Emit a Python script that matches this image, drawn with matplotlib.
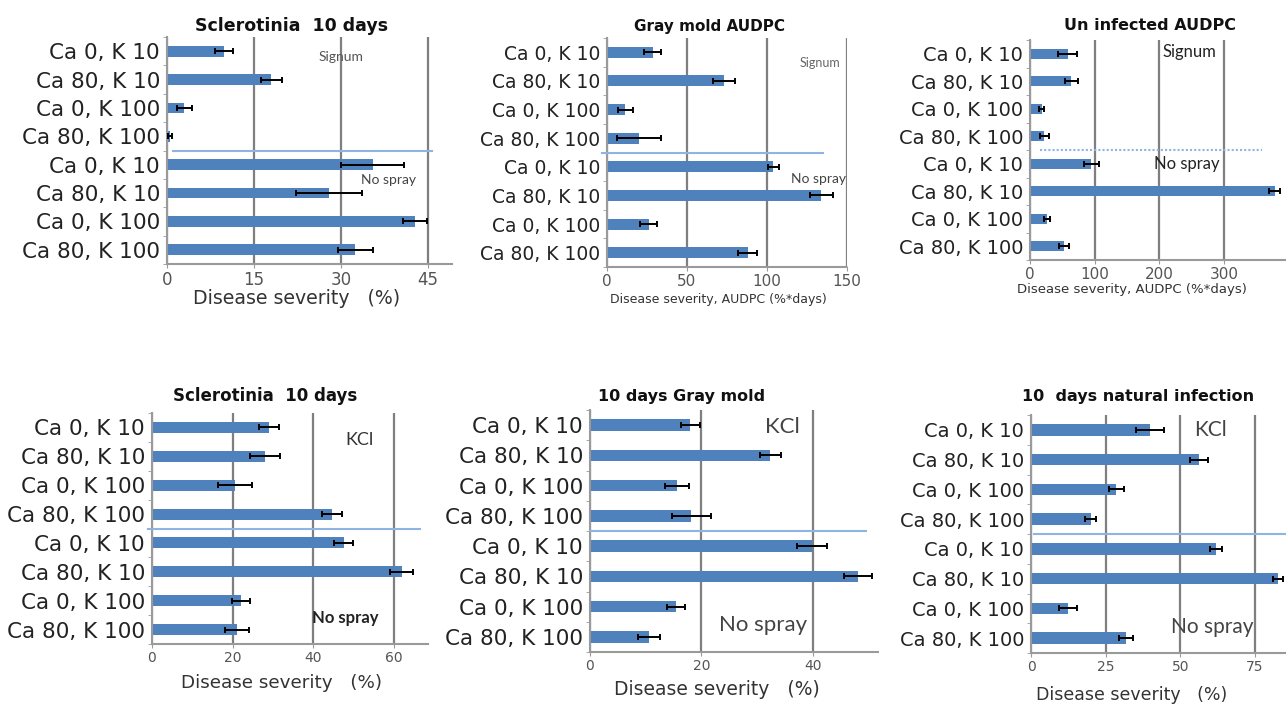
import matplotlib
matplotlib.use("Agg")
import matplotlib.pyplot as plt

# Treatment labels (top group: sprayed, bottom group: no spray)
treatments = ["Ca 0, K 10", "Ca 80, K 10", "Ca 0, K 100", "Ca 80, K 100",
              "Ca 0, K 10", "Ca 80, K 10", "Ca 0, K 100", "Ca 80, K 100"]

# Signum experiment
sclero_signum_mean = [9.8, 18.0, 3.0, 0.5, 35.5, 28.0, 42.8, 32.5]
sclero_signum_err = [1.6, 1.8, 1.3, 0.3, 5.5, 5.7, 2.0, 3.0]
graymold_audpc_mean = [28.5, 73.0, 11.5, 20.0, 104.0, 134.0, 26.0, 88.0]
graymold_audpc_err = [5.5, 7.0, 4.5, 14.0, 3.5, 7.0, 5.5, 6.0]
uninfected_audpc_mean = [58.0, 64.0, 18.0, 22.0, 95.0, 378.0, 26.0, 53.0]
uninfected_audpc_err = [14.0, 10.0, 4.0, 7.0, 12.0, 9.0, 4.5, 8.0]

# KCl experiment
sclero_kcl_mean = [29.0, 28.0, 20.5, 44.6, 47.6, 62.0, 22.0, 21.0]
sclero_kcl_err = [2.4, 3.8, 4.2, 2.5, 2.4, 2.9, 2.2, 3.0]
graymold_kcl_mean = [18.0, 32.4, 15.6, 18.2, 39.9, 48.1, 15.5, 10.6]
graymold_kcl_err = [1.7, 1.9, 2.1, 3.5, 2.7, 2.5, 1.6, 1.9]
natural_kcl_mean = [40.0, 56.3, 28.6, 20.0, 62.0, 82.6, 12.4, 31.7]
natural_kcl_err = [4.7, 3.0, 2.6, 1.8, 2.0, 1.7, 3.1, 2.3]

W, H = 1286, 720
fig = plt.figure(figsize=(W / 100, H / 100), dpi=100)
fig.patch.set_facecolor("white")

BAR = "#4F81BD"
SEP = "#8EB4E3"
GRID = "#7f7f7f"
SPINE = "#9a9a9a"
TXT = "#222222"


def axes_px(l, t, r, b):
    return fig.add_axes([l / W, 1 - b / H, (r - l) / W, (b - t) / H])


def fig_text(x, y, s, **kw):
    fig.text(x / W, 1 - y / H, s, ha="center", va="center", **kw)


def panel(rect, means, errs, xlim, xticks, title, title_xy, title_size,
          xlabel, xlabel_xy, xlabel_size, tick_size, ylab_size,
          group_texts, sep_span, sep_style="-"):
    ax = axes_px(*rect)
    pos = list(range(len(means)))
    ax.barh(pos, means, height=0.38, color=BAR, zorder=2)
    ax.errorbar(means, pos, xerr=errs, fmt="none", ecolor="black",
                elinewidth=1.4, capsize=2.5, capthick=1.4, zorder=3)
    ax.set_ylim(len(means) - 0.5, -0.5)
    ax.set_xlim(0, xlim)
    ax.set_xticks(xticks)
    ax.set_xticklabels([str(v) for v in xticks], fontsize=tick_size,
                       color="#555555")
    ax.set_yticks(pos)
    ax.set_yticklabels(treatments, fontsize=ylab_size, color=TXT)
    ax.set_yticks([p - 0.5 for p in range(len(means) + 1)], minor=True)
    ax.tick_params(axis="y", which="major", length=0, pad=5)
    ax.tick_params(axis="y", which="minor", length=3, color=SPINE)
    ax.tick_params(axis="x", length=3, color=SPINE, pad=2)
    ax.grid(axis="x", color=GRID, linewidth=1.6)
    ax.set_axisbelow(True)
    for side in ("top", "right"):
        ax.spines[side].set_visible(False)
    ax.spines["left"].set_color(SPINE)
    ax.spines["left"].set_linewidth(1.5)
    ax.spines["bottom"].set_color(SPINE)
    ax.spines["bottom"].set_linewidth(1.5)
    ax.spines["bottom"].set_linestyle((0, (1, 1)))
    ax.axhline(3.5, xmin=sep_span[0], xmax=sep_span[1], color=SEP,
               linewidth=1.5, linestyle=sep_style, clip_on=False, zorder=4)
    for (tx, ty, s, size, col, weight) in group_texts:
        ax.text(tx, ty, s, fontsize=size, color=col, family="Lato",
                fontweight=weight, ha="center", va="center", zorder=5)
    ax.set_xlabel(xlabel, fontsize=xlabel_size, color="#333333", va="center")
    ax.xaxis.set_label_coords(*xlabel_xy)
    fig_text(*title_xy, title, fontsize=title_size, fontweight="bold",
             color="#111111")
    return ax


# Top row: Signum
panel((167, 37, 452, 264), sclero_signum_mean, sclero_signum_err, 49.2,
      [0, 15, 30, 45], "Sclerotinia  10 days", (292, 26), 12.5,
      "Disease severity   (%)", (0.453, -0.15), 13.6, 12, 15.5,
      [(30.0, 0.2, "Signum", 10, "#555555", "normal"),
       (38.2, 4.53, "No spray", 10, "#444444", "normal")], (0.02, 0.93))

panel((607, 38, 847, 267), graymold_audpc_mean, graymold_audpc_err, 150,
      [0, 50, 100, 150], "Gray mold AUDPC", (710, 26), 11,
      "Disease severity, AUDPC (%*days)", (0.4625, -0.144), 9, 11, 13.5,
      [(133, 0.37, "Signum", 9, "#666666", "normal"),
       (132, 4.43, "No spray", 10, "#444444", "normal")], (-0.02, 0.9))

panel((1030, 40, 1285, 260), uninfected_audpc_mean, uninfected_audpc_err, 394,
      [0, 100, 200, 300], "Un infected AUDPC", (1150, 26), 11.5,
      "Disease severity, AUDPC (%*days)", (0.4, -0.136), 9.5, 11, 14,
      [(247, -0.06, "Signum", 12, "#222222", "normal"),
       (243, 4.0, "No spray", 12, "#222222", "normal")], (0.04, 0.91),
      sep_style=(0, (1, 1)))

# Bottom row: KCl
panel((152, 413, 428, 644), sclero_kcl_mean, sclero_kcl_err, 68.5,
      [0, 20, 40, 60], "Sclerotinia  10 days", (265, 396), 12,
      "Disease severity   (%)", (0.471, -0.169), 13.2, 10, 15.5,
      [(51.6, 0.43, "KCl", 13, "#333333", "normal"),
       (47.9, 6.59, "No spray", 12, "#222222", "bold")], (-0.015, 0.97))

panel((590, 410, 878, 652), graymold_kcl_mean, graymold_kcl_err, 51.7,
      [0, 20, 40], "10 days Gray mold", (682, 397), 11.5,
      "Disease severity   (%)", (0.441, -0.153), 13.5, 10, 15.5,
      [(34.6, 0.06, "KCl", 16, "#444444", "normal"),
       (31.1, 6.6, "No spray", 16, "#444444", "normal")], (0.0, 0.96))

panel((1031, 415, 1286, 653), natural_kcl_mean, natural_kcl_err, 85.4,
      [0, 25, 50, 75], "10  days natural infection", (1138, 397), 11.5,
      "Disease severity   (%)", (0.396, -0.176), 12.5, 10, 14,
      [(60.0, 0.0, "KCl", 15, "#444444", "normal"),
       (60.6, 6.63, "No spray", 15, "#444444", "normal")], (0.01, 1.0))

fig.savefig("out.png", dpi=100, facecolor="white")
